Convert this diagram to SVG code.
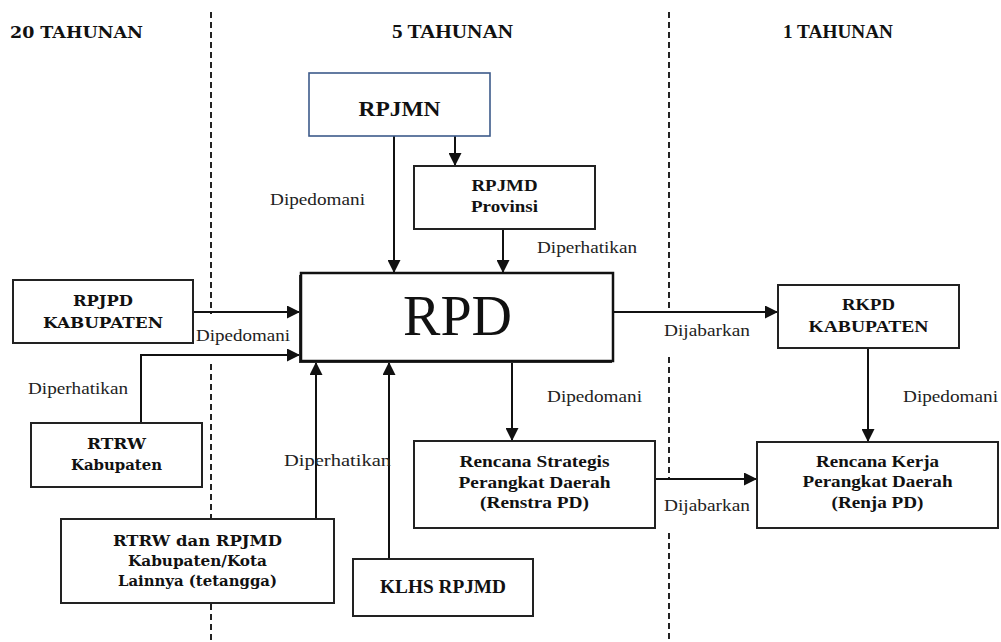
<svg xmlns="http://www.w3.org/2000/svg" width="1001" height="642" viewBox="0 0 1001 642">
<style>
.box{fill:#fff;stroke:#222;stroke-width:2}
.t{font-family:"Liberation Serif","Times New Roman",serif;font-weight:bold;font-size:17px;fill:#111;text-anchor:middle}
.bk{font-family:"DejaVu Serif","Liberation Serif",serif;font-weight:bold;font-size:15px;fill:#111;text-anchor:middle}
.lb{font-family:"Liberation Serif","Times New Roman",serif;font-size:17px;fill:#222}
.hd{font-family:"Liberation Serif","Times New Roman",serif;font-weight:bold;font-size:18px;fill:#111}
.dash{stroke:#222;stroke-width:2;stroke-dasharray:6 4;fill:none}
.c{stroke:#111;stroke-width:2;fill:none;marker-end:url(#ah)}
</style>
<defs>
<marker id="ah" viewBox="0 0 12 12" markerWidth="13" markerHeight="13" refX="12" refY="6" orient="auto" markerUnits="userSpaceOnUse">
<path d="M0,0 L12,6 L0,12 z" fill="#111"/>
</marker>
</defs>
<rect width="1001" height="642" fill="#fff"/>
<g id="dividers">
<path class="dash" d="M211,12 V314 M211,364 V642"/>
<path class="dash" d="M669,12 V313 M669,357 V480 M669,533 V642"/>
</g>
<g id="headers">
<text x="10" y="38" class="bk" style="text-anchor:start;font-size:16px" textLength="133" lengthAdjust="spacingAndGlyphs">20 TAHUNAN</text>
<text x="392" y="38" class="hd" textLength="121" lengthAdjust="spacingAndGlyphs">5 TAHUNAN</text>
<text x="783" y="38" class="hd" textLength="110" lengthAdjust="spacingAndGlyphs">1 TAHUNAN</text>
</g>
<g id="connectors">
<path class="c" d="M394,136 V273"/>
<path class="c" d="M455,136 V166"/>
<path class="c" d="M503,229 V273"/>
<path class="c" d="M193,312 H300"/>
<path class="c" d="M141,423 V355 H300"/>
<path class="c" d="M316,519 V362"/>
<path class="c" d="M389,559 V362"/>
<path class="c" d="M512,363 V441"/>
<path class="c" d="M613,312 H778"/>
<path class="c" d="M868,348 V442"/>
<path class="c" d="M655,479 H757"/>
<text class="lb" x="270" y="205" textLength="95" lengthAdjust="spacingAndGlyphs">Dipedomani</text>
<text class="lb" x="537" y="253" textLength="100" lengthAdjust="spacingAndGlyphs">Diperhatikan</text>
<text class="lb" x="196" y="341" textLength="94" lengthAdjust="spacingAndGlyphs">Dipedomani</text>
<text class="lb" x="28" y="394" textLength="100" lengthAdjust="spacingAndGlyphs">Diperhatikan</text>
<text class="lb" x="284" y="466" textLength="107" lengthAdjust="spacingAndGlyphs">Diperhatikan</text>
<text class="lb" x="547" y="402" textLength="95" lengthAdjust="spacingAndGlyphs">Dipedomani</text>
<text class="lb" x="664" y="336" textLength="86" lengthAdjust="spacingAndGlyphs">Dijabarkan</text>
<text class="lb" x="664" y="511" textLength="86" lengthAdjust="spacingAndGlyphs">Dijabarkan</text>
<text class="lb" x="903" y="402" textLength="95" lengthAdjust="spacingAndGlyphs">Dipedomani</text>
</g>
<g id="rpjmn">
<rect x="309" y="73" width="181" height="63" fill="#fff" stroke="#3d5a8a" stroke-width="1.6"/>
<text class="t" x="399.5" y="116" style="font-size:21px" textLength="82" lengthAdjust="spacingAndGlyphs">RPJMN</text>
</g>
<g id="rpjmd-provinsi">
<rect class="box" x="414" y="166" width="181" height="63"/>
<text class="t" x="504.5" y="191" textLength="66" lengthAdjust="spacingAndGlyphs">RPJMD</text>
<text class="t" x="504.5" y="212" textLength="67" lengthAdjust="spacingAndGlyphs">Provinsi</text>
</g>
<g id="rpd">
<rect x="299" y="275" width="313" height="88" fill="#333"/>
<rect x="301" y="273" width="312" height="88" fill="#fff" stroke="#111" stroke-width="2.5"/>
<text x="457.5" y="335" style="font-family:'Liberation Serif','Times New Roman',serif;font-size:56px;fill:#111;text-anchor:middle">RPD</text>
</g>
<g id="rpjpd">
<rect class="box" x="13" y="280" width="180" height="63"/>
<text class="bk" x="103" y="306" textLength="60" lengthAdjust="spacingAndGlyphs">RPJPD</text>
<text class="bk" x="103" y="328" textLength="120" lengthAdjust="spacingAndGlyphs">KABUPATEN</text>
</g>
<g id="rtrw-kabupaten">
<rect class="box" x="31" y="423" width="171" height="64"/>
<text class="bk" x="116.5" y="449" textLength="59" lengthAdjust="spacingAndGlyphs">RTRW</text>
<text class="bk" x="116.5" y="470" textLength="91" lengthAdjust="spacingAndGlyphs">Kabupaten</text>
</g>
<g id="rtrw-rpjmd-lainnya">
<rect class="box" x="61" y="519" width="273" height="84"/>
<text class="bk" x="197.5" y="546" textLength="169" lengthAdjust="spacingAndGlyphs">RTRW dan RPJMD</text>
<text class="bk" x="197.5" y="566" textLength="139" lengthAdjust="spacingAndGlyphs">Kabupaten/Kota</text>
<text class="bk" x="197.5" y="586" textLength="159" lengthAdjust="spacingAndGlyphs">Lainnya (tetangga)</text>
</g>
<g id="klhs">
<rect class="box" x="353" y="559" width="180" height="57"/>
<text class="t" x="443" y="593" style="font-size:18px" textLength="126" lengthAdjust="spacingAndGlyphs">KLHS RPJMD</text>
</g>
<g id="renstra">
<rect class="box" x="414" y="441" width="241" height="87"/>
<text class="t" x="534.5" y="467" textLength="150" lengthAdjust="spacingAndGlyphs">Rencana Strategis</text>
<text class="t" x="534.5" y="488" textLength="152" lengthAdjust="spacingAndGlyphs">Perangkat Daerah</text>
<text class="t" x="534.5" y="508" textLength="109" lengthAdjust="spacingAndGlyphs">(Renstra PD)</text>
</g>
<g id="rkpd">
<rect class="box" x="778" y="285" width="181" height="63"/>
<text class="t" x="868.5" y="310" textLength="53" lengthAdjust="spacingAndGlyphs">RKPD</text>
<text class="t" x="868.5" y="332" textLength="120" lengthAdjust="spacingAndGlyphs">KABUPATEN</text>
</g>
<g id="renja">
<rect class="box" x="757" y="442" width="241" height="86"/>
<text class="t" x="877.5" y="467" textLength="123" lengthAdjust="spacingAndGlyphs">Rencana Kerja</text>
<text class="t" x="877.5" y="487" textLength="150" lengthAdjust="spacingAndGlyphs">Perangkat Daerah</text>
<text class="t" x="877.5" y="508" textLength="92" lengthAdjust="spacingAndGlyphs">(Renja PD)</text>
</g>
</svg>
